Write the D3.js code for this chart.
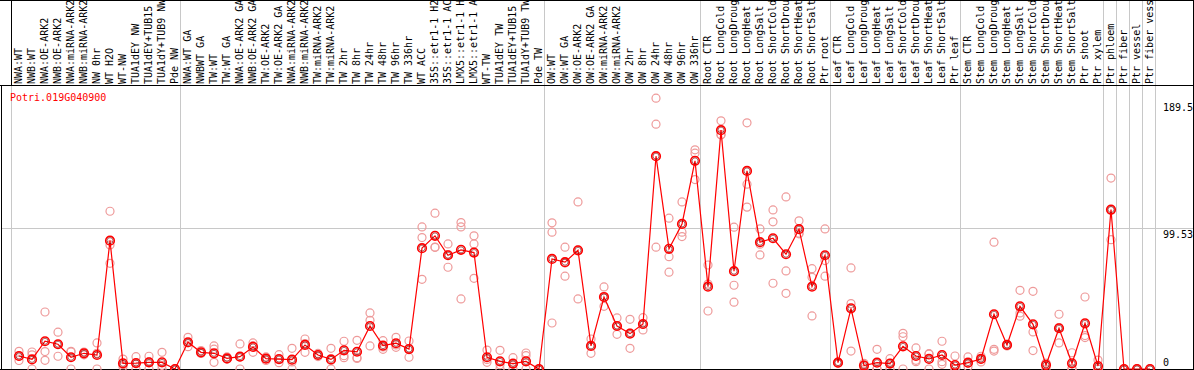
<!DOCTYPE html>
<html>
  <head>
    <meta charset="utf-8">
    <title>Potri.019G040900</title>
    <script src="https://d3js.org/d3.v7.min.js"></script>
    <style>
      body { margin: 0; background: #fff; }
      text { font-family: "DejaVu Sans Mono", monospace; font-size: 10px; }
    </style>
  </head>
  <body>
    <svg id="chart" width="1194" height="370"></svg>
    <script>
      // sample labels (as shown, truncated in the header)
      const samples = [
        "NWA:WT", "NWB:WT", "NWA:OE-ARK2", "NWB:OE-ARK2", "NWA:miRNA-ARK2", "NWB:miRNA-ARK2",
        "NW 0hr", "WT H2O", "WT-NW", "TUA1dEY NW", "TUA1dEY+TUB15", "TUA1dY+TUB9 NW", "Pde NW",
        "NWA:WT GA", "NWBWT GA", "TW:WT", "TW:WT GA", "NWA:OE-ARK2 GA", "NWB:OE-ARK2 GA",
        "TW:OE-ARK2", "TW:OE-ARK2 GA", "NWA:miRNA-ARK2", "NWB:miRNA-ARK2", "TW:miRNA-ARK2",
        "TW:miRNA-ARK2", "TW 2hr", "TW 8hr", "TW 24hr", "TW 48hr", "TW 96hr", "TW 336hr",
        "WT ACC", "35S::etr1-1 H2", "35S::etr1-1 AC", "LMX5::etr1-1 H", "LMX5::etr1-1 A",
        "WT-TW", "TUA1dEY TW", "TUA1dEY+TUB15", "TUA1dY+TUB9 TW", "Pde TW",
        "OW:WT", "OW:WT GA", "OW:OE-ARK2", "OW:OE-ARK2 GA", "OW:miRNA-ARK2", "OW:miRNA-ARK2",
        "OW 2hr", "OW 8hr", "OW 24hr", "OW 48hr", "OW 96hr", "OW 336hr",
        "Root CTR", "Root LongCold", "Root LongDroug", "Root LongHeat", "Root LongSalt",
        "Root ShortCold", "Root ShortDrou", "Root ShortHeat", "Root ShortSalt", "Ptr root",
        "Leaf CTR", "Leaf LongCold", "Leaf LongDroug", "Leaf LongHeat", "Leaf LongSalt",
        "Leaf ShortCold", "Leaf ShortDrou", "Leaf ShortHeat", "Leaf ShortSalt", "Ptr leaf",
        "Stem CTR", "Stem LongCold", "Stem LongDroug", "Stem LongHeat", "Stem LongSalt",
        "Stem ShortCold", "Stem ShortDrou", "Stem ShortHeat", "Stem ShortSalt", "Ptr shoot",
        "Ptr xylem", "Ptr phloem", "Ptr fiber", "Ptr vessel", "Ptr fiber vess"
      ];
      // mean expression per sample
      const means = [
        9.2, 6.8, 19.6, 17.5, 8.3, 11.1, 9.9, 90.7, 4, 4.2, 4.7, 4.7, 0,
        18.9, 11.8, 11.1, 7.5, 8.7, 15.6, 7.3, 7, 6.6, 17, 9.9, 6.8, 13.2, 12.2, 30.4,
        16.5, 18.2, 14.1, 85.4, 94.1, 80.4, 84.2, 82.3, 8.3, 5.4, 3.8, 5.4, 0,
        77.8, 75.5, 83.9, 16.3, 50.9, 30.4, 25, 31.8, 150.4, 84.9, 102.5, 147.1,
        58.2, 168.8, 69.1, 140, 89.6, 92.4, 81.1, 98.8, 58.2, 80.4,
        4.5, 42.9, 2.4, 4.5, 3.8, 16, 9.2, 7.1, 9.9, 2.8,
        4.5, 7.1, 38.7, 17, 44.3, 31.6, 2.8, 28.8, 4, 32.3, 2.1,
        112.7, 0, 0, 0
      ];
      // replicate values per sample
      const replicates = [
        [12.5, 9, 6], [12, 10, 0], [40.3, 12.3, 6.1], [26, 9, 17.5], [12.5, 12, 0],
        [12, 11, 10], [18.4, 11.1, 0], [111.5, 87.7, 74.7], [7, 3, 1.6], [8.7, 4, 0],
        [9, 5, 0], [11.8, 2.5, 0], [0, 0, 0],
        [22.4, 18.5, 15.8], [13, 11.5, 11], [16.3, 14, 4.7], [8.5, 7, 7], [17.7, 8.5, 0],
        [18.4, 16.5, 11.8], [8.5, 7.3, 6], [10.1, 6.8, 4.5], [14.6, 5, 0], [21.2, 18, 11.8],
        [11, 9.9, 8.8], [14.6, 6, 0], [19.6, 9.4, 8], [20.3, 8, 7.5], [39.6, 34.4, 16.3],
        [20, 15.6, 13.9], [22.4, 17, 15.3], [19.8, 14.2, 8.3], [100.4, 92.9, 63.4],
        [110.1, 86, 86.1], [88.4, 80.9, 71.9], [103.5, 100.4, 49.5], [94.1, 88.4, 64.1],
        [13.4, 6.8, 4.7], [13.2, 3, 0], [8, 3.4, 0], [11.3, 9.4, 0], [0, 0, 0],
        [103.3, 96.7, 32.5], [86.1, 75, 65.6], [118.1, 84, 49.5], [21.2, 16.5, 11.1],
        [58, 50.5, 44.3], [36.1, 30.5, 24.5], [35.1, 25.3, 14.6], [36.3, 31.5, 27.6],
        [191.4, 173, 86.1], [106.6, 79.4, 68.4], [118.1, 96.7, 93.6], [154.9, 152.5, 133.9],
        [73.5, 60, 41], [175.4, 165.5, 165.5], [100.2, 59.2, 47.2], [174, 130.6, 114.4],
        [99, 88.2, 80.6], [112.4, 104, 60.6], [121.6, 69.3, 53.5], [104.7, 96, 95.5],
        [70.9, 64.8, 37.5], [99, 76.6, 65.6],
        [5, 4.5, 4], [71.4, 46.2, 12.7], [4, 3, 0], [13.9, 0, 0], [7.3, 4, 0],
        [25.2, 22.8, 0], [14.9, 6.1, 5.2], [10.8, 10.5, 0], [19.6, 5.2, 3.3], [9.2, 0, 0],
        [8.5, 4, 1.6], [9, 7, 5], [89.6, 13.9, 12.7], [17.5, 17, 16.3], [55.6, 39.6, 37.3],
        [54.9, 26.2, 13], [4, 4, 0], [38.7, 29.3, 18.4], [11.5, 0.5, 0], [50.9, 23.6, 22.2],
        [6.3, 0, 0],
        [134.9, 112, 91.4], [0, 0, 0], [0, 0, 0], [0, 0, 0]
      ];
      // index where each tissue group ends
      const groupEnds = [13, 41, 53, 63, 73, 84, 85, 86, 87, 88];
      const axisTicks = [0, 99.53, 189.5];
      const gridTicks = [99.53];
      const geneName = "Potri.019G040900";

      const width = 1194, height = 370;
      const headerBottom = 86;
      const svg = d3.select("#chart");

      const x = d3.scaleBand()
        .domain(d3.range(samples.length))
        .range([11, 1155])
        .padding(0);
      const y = d3.scaleLinear()
        .domain([0, 200])
        .range([369, headerBottom]);
      const px = function(i) { return x(i) + 8; };

      // clip regions
      const defs = svg.append("defs");
      defs.append("clipPath").attr("id", "headClip")
        .append("rect").attr("x", 11).attr("y", 0).attr("width", 1182).attr("height", headerBottom);
      defs.append("clipPath").attr("id", "plotClip")
        .append("rect").attr("x", 1).attr("y", headerBottom).attr("width", 1192).attr("height", height - headerBottom);

      // grid line
      svg.selectAll(".grid")
        .data(gridTicks)
        .enter().append("line")
          .attr("x1", 1).attr("x2", width)
          .attr("y1", function(d) { return Math.round(y(d)) + 0.5; })
          .attr("y2", function(d) { return Math.round(y(d)) + 0.5; })
          .style("stroke", "#c8c8c8");

      // group separators
      const seps = [0].concat(groupEnds);
      svg.selectAll(".sep")
        .data(seps)
        .enter().append("line")
          .attr("x1", function(d) { return (d < samples.length ? x(d) : x.range()[1]) + 0.5; })
          .attr("x2", function(d) { return (d < samples.length ? x(d) : x.range()[1]) + 0.5; })
          .attr("y1", 0).attr("y2", height)
          .style("stroke", function(d) { return d === 0 ? "none" : "#c8c8c8"; });
      svg.append("line")
        .attr("x1", 11.5).attr("x2", 11.5).attr("y1", headerBottom).attr("y2", height)
        .style("stroke", "#c8c8c8");

      // header labels
      svg.append("g")
        .attr("clip-path", "url(#headClip)")
        .selectAll("text")
        .data(samples)
        .enter().append("text")
          .attr("transform", function(d, i) { return "translate(" + (x(i) + 10.5) + "," + (headerBottom - 2) + ") rotate(-90)"; })
          .style("fill", "#000")
          .text(function(d) { return d; });

      // frame
      svg.append("line").attr("x1", 0).attr("x2", width).attr("y1", 0.5).attr("y2", 0.5).style("stroke", "#000");
      svg.append("line").attr("x1", 0).attr("x2", width).attr("y1", headerBottom - 0.5).attr("y2", headerBottom - 0.5).style("stroke", "#000");
      svg.append("line").attr("x1", 0).attr("x2", width).attr("y1", 369.5).attr("y2", 369.5).style("stroke", "#000");
      svg.append("line").attr("x1", 11.5).attr("x2", 11.5).attr("y1", 0).attr("y2", headerBottom).style("stroke", "#000");
      svg.append("line").attr("x1", 1.5).attr("x2", 1.5).attr("y1", headerBottom).attr("y2", height).style("stroke", "#000");
      svg.append("line").attr("x1", width - 0.5).attr("x2", width - 0.5).attr("y1", 0).attr("y2", height).style("stroke", "#000");

      // gene name
      svg.append("text")
        .attr("x", 10).attr("y", 101)
        .style("fill", "red")
        .text(geneName);

      // y axis labels (right side)
      svg.selectAll(".ylab")
        .data(axisTicks)
        .enter().append("text")
          .attr("x", 1163)
          .attr("y", function(d) { return Math.min(y(d) + 10, 366); })
          .style("fill", "#000")
          .text(function(d) { return d; });

      const plot = svg.append("g").attr("clip-path", "url(#plotClip)");

      // replicates
      const repPoints = [];
      replicates.forEach(function(r, i) {
        r.forEach(function(v) { repPoints.push({ i: i, v: v }); });
      });
      plot.selectAll(".rep")
        .data(repPoints)
        .enter().append("circle")
          .attr("cx", function(d) { return px(d.i); })
          .attr("cy", function(d) { return y(d.v); })
          .attr("r", 4)
          .style("fill", "none")
          .style("stroke", "#ee9a9a")
          .style("stroke-width", 1.2);

      // mean line
      plot.append("path")
        .datum(means)
        .attr("d", d3.line()
          .x(function(d, i) { return px(i); })
          .y(function(d) { return y(d); }))
        .style("fill", "none")
        .style("stroke", "red")
        .style("stroke-width", 1.2);

      // mean circles
      plot.selectAll(".mean")
        .data(means)
        .enter().append("circle")
          .attr("cx", function(d, i) { return px(i); })
          .attr("cy", function(d) { return y(d); })
          .attr("r", 4.3)
          .style("fill", "none")
          .style("stroke", "red")
          .style("stroke-width", 1.6);
      plot.selectAll(".meanIn")
        .data(means)
        .enter().append("circle")
          .attr("cx", function(d, i) { return px(i); })
          .attr("cy", function(d) { return y(d); })
          .attr("r", 3)
          .style("fill", "none")
          .style("stroke", "#700")
          .style("stroke-width", 0.6);
    </script>
  </body>
</html>
